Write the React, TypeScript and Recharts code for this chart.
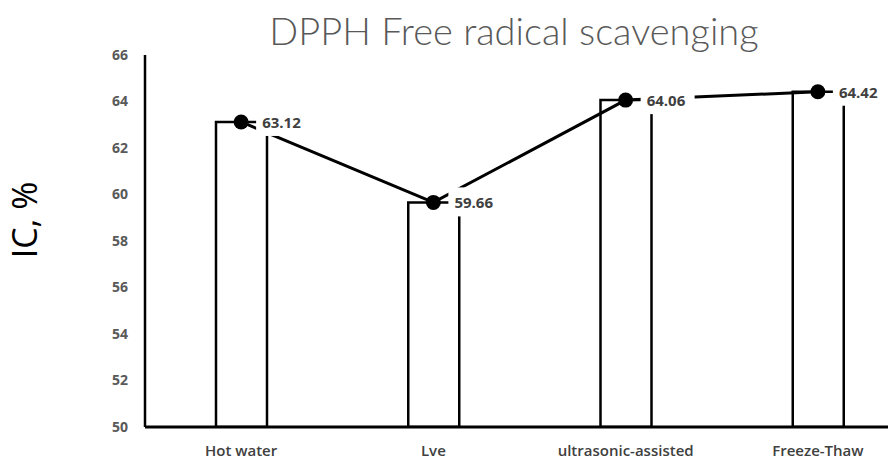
import { Bar, ComposedChart, LabelList, Line, XAxis, YAxis } from "recharts"

const categories = ["Hot water", "Lve", "ultrasonic-assisted", "Freeze-Thaw"]
const icValues = [63.12, 59.66, 64.06, 64.42]
const yTicks = [50, 52, 54, 56, 58, 60, 62, 64, 66]

const data = categories.map((name, i) => ({ name, ic: icValues[i] }))

// white box behind value label, covers the line and bar corner like the original
function ValueLabel(props: any) {
  const { x, y, value } = props
  return (
    <g>
      <rect x={x + 15} y={y - 15} width={54} height={29} fill="#fff" />
      <text
        x={x + 21}
        y={y}
        dominantBaseline="central"
        fontFamily="'Open Sans', sans-serif"
        fontWeight={700}
        fontSize={15}
        fill="#404040"
      >
        {value}
      </text>
    </g>
  )
}

function YLabel() {
  return (
    <text
      x={24}
      y={220}
      transform="rotate(-90 24 220)"
      textAnchor="middle"
      dominantBaseline="central"
      fontFamily="'Open Sans', sans-serif"
      fontSize={34}
      fill="#000"
    >
      IC, %
    </text>
  )
}

export default function App() {
  return (
    <div style={{ position: "fixed", top: 0, left: 0, width: 888, height: 459, overflow: "hidden", background: "#fff" }}>
      <div
        style={{
          position: "absolute",
          top: 7,
          left: 0,
          width: 1028,
          textAlign: "center",
          fontFamily: "Lato, sans-serif",
          fontWeight: 300,
          fontSize: 38,
          color: "#595959",
        }}
      >
        DPPH Free radical scavenging
      </div>
      <ComposedChart width={914} height={459} data={data} margin={{ top: 55, right: 0, bottom: 0, left: 0 }}>
        <XAxis
          dataKey="name"
          height={32}
          axisLine={{ stroke: "#000", strokeWidth: 3 }}
          tickLine={false}
          tickMargin={12}
          tick={{ fill: "#404040", fontSize: 15, fontWeight: 600, fontFamily: "'Open Sans', sans-serif" }}
        />
        <YAxis
          width={145}
          domain={[50, 66]}
          ticks={yTicks}
          allowDataOverflow
          axisLine={{ stroke: "#000", strokeWidth: 2.5 }}
          tickLine={false}
          tickMargin={11}
          tick={{ fill: "#595959", fontSize: 14, fontWeight: 700, fontFamily: "'Open Sans', sans-serif" }}
          label={<YLabel />}
        />
        <Bar dataKey="ic" barSize={51} fill="#fff" stroke="#000" strokeWidth={2.5} isAnimationActive={false} />
        <Line
          type="linear"
          dataKey="ic"
          stroke="#000"
          strokeWidth={3}
          dot={{ r: 7.5, fill: "#000", stroke: "#000", strokeWidth: 0 }}
          isAnimationActive={false}
        >
          <LabelList dataKey="ic" content={<ValueLabel />} />
        </Line>
      </ComposedChart>
    </div>
  )
}
